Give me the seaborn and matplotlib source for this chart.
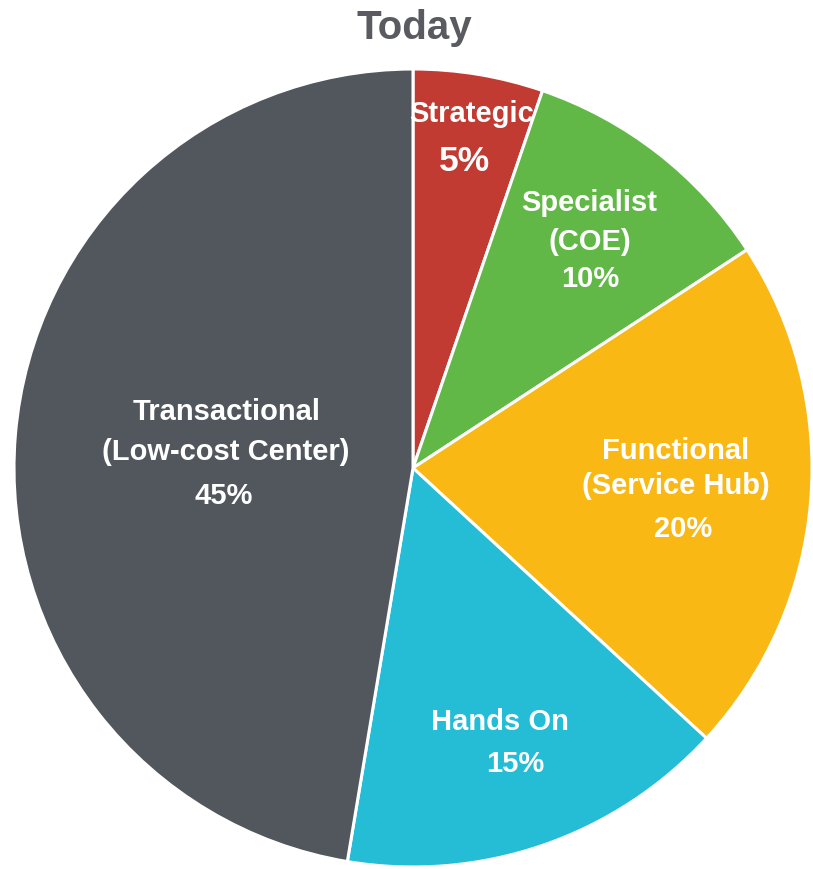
import matplotlib
matplotlib.use("Agg")
import matplotlib.pyplot as plt
import numpy as np
import seaborn as sns

# Segment data
names = ["Strategic", "Specialist", "Functional", "Hands On", "Transactional"]
subtitles = ["", "(COE)", "(Service Hub)", "", "(Low-cost Center)"]
shares = [5, 10, 20, 15, 45]
colors = ["#C23B33", "#62B847", "#F9B814", "#25BCD6", "#52575D"]

sns.set_theme(style="white")
plt.rcParams["font.family"] = ["Liberation Sans", "DejaVu Sans"]

W, H = 813, 869
fig = plt.figure(figsize=(W / 100, H / 100), dpi=100)

# Pie occupies a circle centred at (413, 468) px with radius 399 px
cx, cy, r = 413, 468, 399
ax = fig.add_axes([(cx - r) / W, (H - cy - r) / H, 2 * r / W, 2 * r / H])
wedges, _ = ax.pie(shares, colors=colors, startangle=90, counterclock=False,
                   radius=1, wedgeprops=dict(edgecolor="white", linewidth=2.2))
ax.set_xlim(-1, 1)
ax.set_ylim(-1, 1)
ax.set_aspect("equal")
ax.axis("off")

# radial placement of each label block (fraction of radius)
label_radius = [0.84, 0.72, 0.66, 0.73, 0.47]
# per-line layout inside each block: (dx_px, dy_px, size) for name, subtitle, pct
line_layout = [
    [(3, -23, 21), None, (-4, 24, 25.5)],
    [(0, -38, 21), (0, 1, 21), (1, 38, 21)],
    [(0, -39, 21), (0, -4, 21), (8, 39, 21)],
    [(-8, -21, 21), None, (8, 21, 21)],
    [(1, -41, 21), (0, -1, 21), (-2, 43, 21)],
]

for w, name, sub, val, rad, lay in zip(wedges, names, subtitles, shares,
                                       label_radius, line_layout):
    mid = np.deg2rad((w.theta1 + w.theta2) / 2)
    bx, by = rad * np.cos(mid), rad * np.sin(mid)
    texts = [name, sub, f"{val}%"]
    for txt, spec in zip(texts, lay):
        if spec is None or not txt:
            continue
        dx, dy, s = spec
        ax.text(bx + dx / r, by - dy / r, txt, ha="center", va="center",
                color="white", fontsize=s, fontweight="bold")

fig.text(414 / W, 1 - 28 / H, "Today", ha="center", va="center",
         fontsize=29, fontweight="bold", color="#595B60")

fig.savefig("out.png", dpi=100, facecolor="white")
